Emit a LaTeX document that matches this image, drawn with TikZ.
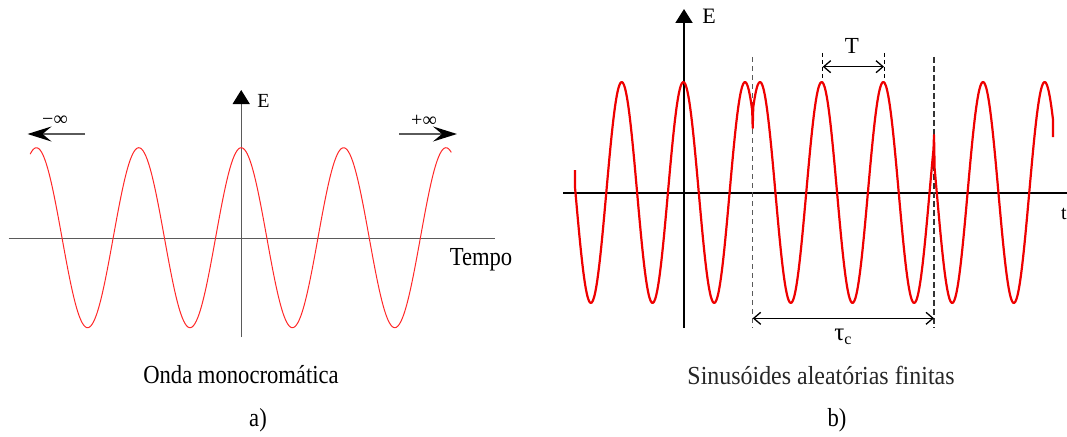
\documentclass[tikz,border=0pt]{standalone}
\usepackage{fontspec}
\setmainfont{Liberation Serif}
\usetikzlibrary{arrows.meta}
\definecolor{wavered}{RGB}{255,40,40}
\definecolor{wavered2}{RGB}{238,0,0}
\definecolor{axgray}{RGB}{90,90,90}
\newcommand\cndtxt[2]{\scalebox{#1}[1]{#2}}
\begin{document}
\begin{tikzpicture}[x=1pt,y=-1pt,
  txt/.style={inner sep=0pt, font=\fontsize{26}{30}\selectfont},
  smalltxt/.style={inner sep=0pt, font=\fontsize{20}{24}\selectfont},
  axisL/.style={draw=axgray, line width=1.3pt},
  axisR/.style={draw=black, line width=2pt},
  waveL/.style={draw=wavered, line width=1pt},
  waveR/.style={draw=wavered2, line width=2.2pt, line join=round},
  infarrow/.style={draw=axgray, line width=1.8pt, -{Stealth[length=24pt,width=15pt,inset=9pt,color=black]}},
  uparrow/.style={-{Triangle[length=14pt,width=17pt,color=black]}},
  dimarrow/.style={draw=black, line width=1.3pt, {Straight Barb[length=7pt,width=12pt]}-{Straight Barb[length=7pt,width=12pt]}},
  guideA/.style={draw=axgray, line width=0.8pt, dash pattern=on 5pt off 4pt},
  guideB/.style={draw=black!80, line width=1.5pt, dash pattern=on 6pt off 3pt},
  tick/.style={draw=black, line width=1pt, dash pattern=on 4pt off 3pt}
]
\fill[white] (0,0) rectangle (1067,436);
\useasboundingbox (0,0) rectangle (1067,436);

% ---------------- panel a ----------------
\coordinate (aW) at (8.6,238.5);
\coordinate (aE) at (495,238.5);
\coordinate (aB) at (241.2,337);
\coordinate (aT) at (241.2,90);
\draw[axisL] (aW) -- (aE);
\draw[axisL,uparrow] (aB) -- (aT);
\draw[waveL] plot[domain=30.2:451.3,samples=300,smooth] (\x,{237.7-90*cos((\x-241.2)/102.4*360)});
\node[smalltxt] (Ea) at (263.5,101) {E};
\coordinate (lfS) at (85,134);
\coordinate (lfE) at (27.5,134);
\coordinate (rtS) at (399,134);
\coordinate (rtE) at (457,134);
\draw[infarrow] (lfS) -- (lfE);
\draw[infarrow] (rtS) -- (rtE);
\node[smalltxt] (minf) at (55,121) {−∞};
\node[smalltxt] (pinf) at (424,121) {+∞};
\node[txt] (tempo) at (481,260) {\cndtxt{0.87}{Tempo}};
\node[txt] (capA) at (241,375) {\cndtxt{0.87}{Onda monocromática}};
\node[txt] (labA) at (258,420) {\cndtxt{0.87}{a)}};

% ---------------- panel b ----------------
\coordinate (bW) at (563,192.7);
\coordinate (bE) at (1070,192.7);
\coordinate (bB) at (684,328);
\coordinate (bT) at (684,9);
\draw[axisR] (bW) -- (bE);
\draw[axisR,uparrow] (bB) -- (bT);
\node[inner sep=0pt, font=\fontsize{22}{26}\selectfont] (Eb) at (709,16) {E};
\node[smalltxt,anchor=west] (tb) at (1061,214) {t};

% dashed guides
\coordinate (g1t) at (752.7,57);
\coordinate (g1b) at (752.7,328);
\coordinate (g2t) at (934,57);
\coordinate (g2b) at (934,328);
\draw[guideA] (g1t) -- (g1b);
\draw[guideB] (g2t) -- (g2b);

% wave segments
\draw[waveR] (575,170) -- (575,187)
  -- plot[domain=575:752.2,samples=160,smooth] (\x,{192.5-110.5*cos((\x-745)/61.65*360)})
  -- (752.7,128) -- (753.2,109)
  -- plot[domain=753.2:933.5,samples=160,smooth] (\x,{192.5-110.5*cos((\x-760)/61.65*360)})
  -- (934,135) -- (934.5,162)
  -- plot[domain=934.5:1053,samples=120,smooth] (\x,{192.5-110.5*cos((\x-983)/61.65*360)})
  -- (1053,137);

% period T
\coordinate (tk1t) at (822.7,53);
\coordinate (tk1b) at (822.7,80);
\coordinate (tk2t) at (884,53);
\coordinate (tk2b) at (884,80);
\draw[tick] (tk1t) -- (tk1b);
\draw[tick] (tk2t) -- (tk2b);
\coordinate (Ta) at (822.7,66.7);
\coordinate (Tb) at (884,66.7);
\draw[dimarrow] (Ta) -- (Tb);
\node[inner sep=0pt, font=\fontsize{23}{27}\selectfont] (Tlab) at (852,46) {T};

% coherence time
\coordinate (ca) at (752.7,318.3);
\coordinate (cb) at (934,318.3);
\draw[dimarrow] (ca) -- (cb);
\node[inner sep=0pt, font=\fontsize{25}{28}\selectfont] (tauc) at (843,337) {τ\raisebox{-0.35ex}{\fontsize{16}{18}\selectfont c}};

\node[txt,text=black!85] (capB) at (821,375) {\cndtxt{0.92}{Sinusóides aleatórias finitas}};
\node[txt] (labB) at (837,420) {\cndtxt{0.87}{b)}};
\end{tikzpicture}
\end{document}
